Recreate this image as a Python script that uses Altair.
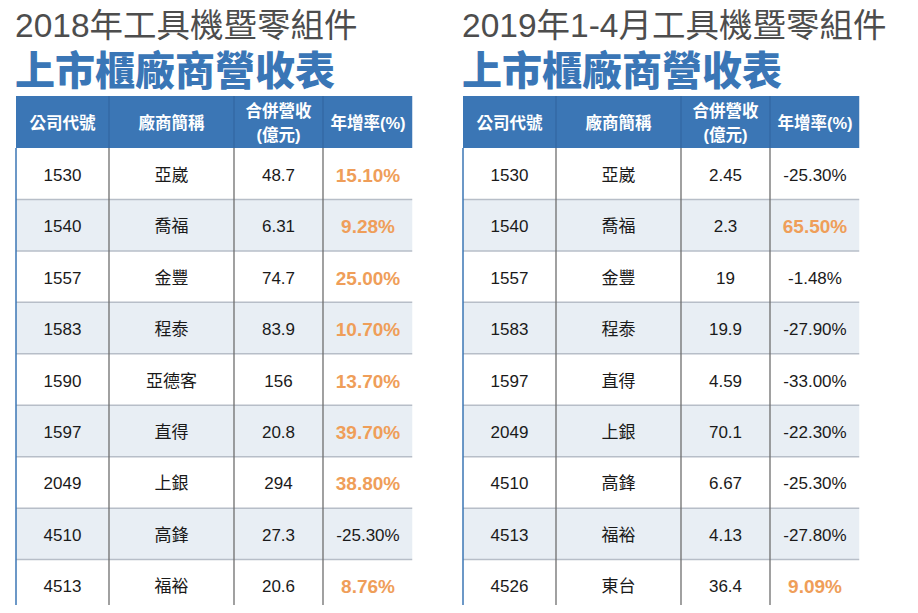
import altair as alt
import pandas as pd

# ---------------- data ----------------
titles_top = ["2018年工具機暨零組件", "2019年1-4月工具機暨零組件"]
title_main = "上市櫃廠商營收表"
headers = ["公司代號", "廠商簡稱", "合併營收\n(億元)", "年增率(%)"]

codes_2018 = ["1530", "1540", "1557", "1583", "1590", "1597", "2049", "4510", "4513"]
names_2018 = ["亞崴", "喬福", "金豐", "程泰", "亞德客", "直得", "上銀", "高鋒", "福裕"]
revenue_2018 = [48.7, 6.31, 74.7, 83.9, 156, 20.8, 294, 27.3, 20.6]
growth_2018 = [15.10, 9.28, 25.00, 10.70, 13.70, 39.70, 38.80, -25.30, 8.76]

codes_2019 = ["1530", "1540", "1557", "1583", "1597", "2049", "4510", "4513", "4526"]
names_2019 = ["亞崴", "喬福", "金豐", "程泰", "直得", "上銀", "高鋒", "福裕", "東台"]
revenue_2019 = [2.45, 2.3, 19, 19.9, 4.59, 70.1, 6.67, 4.13, 36.4]
growth_2019 = [-25.30, 65.50, -1.48, -27.90, -33.00, -22.30, -25.30, -27.80, 9.09]

tables = [
    (codes_2018, names_2018, revenue_2018, growth_2018),
    (codes_2019, names_2019, revenue_2019, growth_2019),
]

# ---------------- layout ----------------
W, H = 902, 597
table_x0 = [8, 455]
col_edges = [0, 93, 218, 307, 397]
header_top, header_bot = 88, 140
row_h = 51.45
LH = 24  # header line height

FONT = "Liberation Sans, Arial, Noto Sans CJK TC"
CJK = "Noto Sans CJK TC"

cells, hlines, vlines, hvlines, borders = [], [], [], [], []
head_txt, body_txt, pos_txt, title_txt = [], [], [], []

for t, (codes, names, revs, grows) in enumerate(tables):
    x0 = table_x0[t]
    left, right = x0 + col_edges[0], x0 + col_edges[-1]
    n = len(codes)
    bottom = header_bot + row_h * n
    # header cells
    for c in range(4):
        cells.append(dict(x=x0 + col_edges[c], x2=x0 + col_edges[c + 1],
                          y=header_top, y2=header_bot, kind="header"))
        nl = headers[c].count("\n")
        head_txt.append(dict(x=x0 + (col_edges[c] + col_edges[c + 1]) / 2,
                             y=(header_top + header_bot) / 2 + 2 - nl * LH / 2,
                             text=headers[c]))
    for r in range(n):
        top = header_bot + row_h * r
        kind = "odd" if r % 2 else "even"
        cy = top + row_h / 2 + 2
        vals = [codes[r], names[r], f"{revs[r]:g}", f"{grows[r]:.2f}%"]
        for c in range(4):
            cells.append(dict(x=x0 + col_edges[c], x2=x0 + col_edges[c + 1],
                              y=top, y2=top + row_h, kind=kind))
            cx = x0 + (col_edges[c] + col_edges[c + 1]) / 2
            rec = dict(x=cx, y=cy, text=vals[c])
            if c == 3 and grows[r] > 0:
                pos_txt.append(rec)
            else:
                body_txt.append(rec)
        hlines.append(dict(x=left, x2=right, y=top + row_h))
    for c in range(1, 4):
        vlines.append(dict(x=x0 + col_edges[c], y=header_bot, y2=bottom))
        hvlines.append(dict(x=x0 + col_edges[c], y=header_top, y2=header_bot))
    borders.append(dict(x=left, y=header_bot, y2=bottom, side="left"))
    borders.append(dict(x=right, y=header_top, y2=bottom, side="right"))
    title_txt.append(dict(x=x0 - 1, y=29, text=titles_top[t], kind="top"))
    title_txt.append(dict(x=x0 - 1, y=77, text=title_main, kind="main"))

xs = alt.Scale(domain=[0, W], range=[0, W])
ys = alt.Scale(domain=[0, H], range=[0, H])
X = lambda f="x": alt.X(f"{f}:Q", scale=xs, axis=None)
Y = lambda f="y": alt.Y(f"{f}:Q", scale=ys, axis=None)

rects = alt.Chart(pd.DataFrame(cells)).mark_rect(strokeWidth=0).encode(
    x=X(), x2="x2:Q", y=Y(), y2="y2:Q",
    color=alt.Color("kind:N", legend=None,
                    scale=alt.Scale(domain=["header", "even", "odd"],
                                    range=["#3b76b5", "#ffffff", "#e8eef4"])),
)

hrules = alt.Chart(pd.DataFrame(hlines)).mark_rule(color="#b7bec8", strokeWidth=1.5).encode(
    x=X(), x2="x2:Q", y=Y())
vrules = alt.Chart(pd.DataFrame(vlines)).mark_rule(color="#6e6e6e", strokeWidth=1.3).encode(
    x=X(), y=Y(), y2="y2:Q")
hvrules = alt.Chart(pd.DataFrame(hvlines)).mark_rule(color="#3468a3", strokeWidth=1.3).encode(
    x=X(), y=Y(), y2="y2:Q")
brules = alt.Chart(pd.DataFrame(borders)).mark_rule(strokeWidth=1.5).encode(
    x=X(), y=Y(), y2="y2:Q",
    color=alt.Color("side:N", legend=None,
                    scale=alt.Scale(domain=["left", "right"], range=["#8f9aa6", "#c6d0db"])))

htext = alt.Chart(pd.DataFrame(head_txt)).mark_text(
    font=FONT, fontSize=16.5, fontWeight="bold", color="#ffffff",
    baseline="middle", align="center", lineBreak="\n", lineHeight=LH).encode(
    x=X(), y=Y(), text="text:N")
btext = alt.Chart(pd.DataFrame(body_txt)).mark_text(
    font=FONT, fontSize=17, color="#1a1a1a", baseline="middle", align="center").encode(
    x=X(), y=Y(), text="text:N")
ptext = alt.Chart(pd.DataFrame(pos_txt)).mark_text(
    font=FONT, fontSize=19, fontWeight="bold", color="#ef9e59",
    baseline="middle", align="center").encode(
    x=X(), y=Y(), text="text:N")

tdf = pd.DataFrame(title_txt)
ttop = alt.Chart(tdf[tdf.kind == "top"]).mark_text(
    font=FONT, fontSize=33.5, color="#4d4d4d", baseline="alphabetic", align="left").encode(
    x=X(), y=Y(), text="text:N")
tmain = alt.Chart(tdf[tdf.kind == "main"]).mark_text(
    font=CJK, fontSize=40, fontWeight=900, color="#3a76b6", baseline="alphabetic",
    align="left").encode(
    x=X(), y=Y(), text="text:N")

chart = alt.layer(rects, hrules, vrules, hvrules, brules, htext, btext, ptext, ttop, tmain).properties(
    width=W, height=H, padding=0,
    autosize=alt.AutoSizeParams(type="none"),
    background="#ffffff",
).configure_view(stroke=None)

chart.save("out.html", embed_options={"renderer": "svg", "actions": False})
